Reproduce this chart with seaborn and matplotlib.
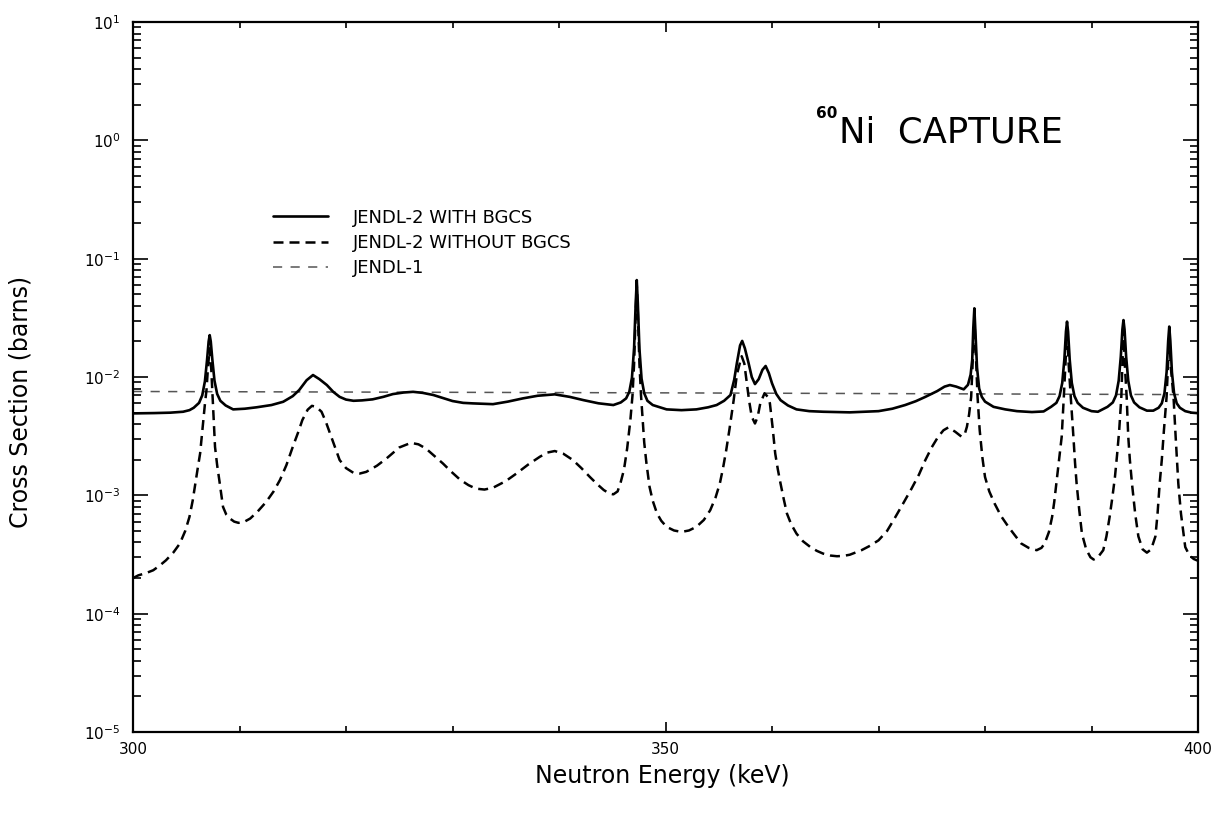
import numpy as np
import pandas as pd
import matplotlib
matplotlib.use("Agg")
import matplotlib.pyplot as plt
from matplotlib.lines import Line2D
from matplotlib.ticker import MultipleLocator, FixedLocator, NullFormatter, LogFormatterSciNotation
import seaborn as sns

# ---- data: 60Ni capture cross section (barns) vs neutron energy (keV) ----
with_bgcs_energy = [300.0, 302.0, 303.5, 304.7, 305.3, 305.7, 306.2, 306.5, 306.75, 306.95,
                    307.1, 307.2, 307.3, 307.45, 307.65, 307.9, 308.2, 308.7, 309.4, 310.5,
                    311.6, 313.0, 314.1, 315.0, 315.6, 316.3, 316.9, 317.5, 318.2, 318.8,
                    319.4, 320.0, 320.7, 321.5, 322.5, 323.5, 324.4, 325.4, 326.3, 327.2,
                    328.2, 329.1, 330.0, 331.0, 331.9, 333.8, 335.2, 336.6, 338.0, 339.6,
                    341.0, 342.3, 343.7, 345.1, 345.8, 346.3, 346.6, 346.85, 347.05, 347.2,
                    347.3, 347.4, 347.55, 347.75, 348.0, 348.3, 348.8, 350.1, 351.5, 352.9,
                    354.0, 354.8, 355.5, 356.1, 356.45, 356.7, 357.0, 357.2, 357.45, 357.8,
                    358.1, 358.4, 358.75, 359.1, 359.4, 359.7, 360.0, 360.4, 360.8, 361.5,
                    362.3, 363.5, 364.8, 367.3, 370.0, 371.3, 372.5, 373.5, 374.4, 375.5,
                    376.2, 376.7, 377.3, 378.0, 378.4, 378.65, 378.8, 378.9, 379.0, 379.1,
                    379.25, 379.45, 379.7, 380.0, 380.8, 381.9, 383.0, 384.4, 385.5, 386.2,
                    386.7, 387.0, 387.25, 387.45, 387.6, 387.7, 387.8, 387.95, 388.15, 388.4,
                    388.7, 389.2, 390.0, 390.6, 391.5, 392.0, 392.3, 392.55, 392.75, 392.9,
                    393.0, 393.1, 393.25, 393.45, 393.7, 394.0, 394.5, 395.2, 395.8, 396.3,
                    396.6, 396.85, 397.05, 397.2, 397.3, 397.4, 397.55, 397.75, 398.0, 398.3,
                    398.8, 399.4, 400.0]
with_bgcs_xs = [4.93e-3, 4.96e-3, 5.0e-3, 5.09e-3, 5.25e-3, 5.5e-3, 6.05e-3, 7.0e-3, 9.2e-3, 1.39e-2,
                2.0e-2, 2.26e-2, 2.0e-2, 1.4e-2, 9.3e-3, 7.2e-3, 6.3e-3, 5.75e-3, 5.33e-3, 5.4e-3,
                5.55e-3, 5.8e-3, 6.18e-3, 6.9e-3, 7.76e-3, 9.4e-3, 1.04e-2, 9.6e-3, 8.56e-3, 7.5e-3,
                6.8e-3, 6.45e-3, 6.3e-3, 6.35e-3, 6.48e-3, 6.8e-3, 7.18e-3, 7.4e-3, 7.5e-3, 7.35e-3,
                7.05e-3, 6.65e-3, 6.27e-3, 6.05e-3, 5.99e-3, 5.9e-3, 6.2e-3, 6.6e-3, 6.95e-3, 7.14e-3,
                6.8e-3, 6.38e-3, 6.0e-3, 5.8e-3, 6.1e-3, 6.6e-3, 7.5e-3, 9.9e-3, 1.77e-2, 4.2e-2,
                6.6e-2, 4.2e-2, 1.74e-2, 9.7e-3, 7.3e-3, 6.3e-3, 5.8e-3, 5.33e-3, 5.25e-3, 5.33e-3,
                5.55e-3, 5.8e-3, 6.3e-3, 7.05e-3, 9.5e-3, 1.31e-2, 1.85e-2, 2.02e-2, 1.75e-2, 1.31e-2,
                1.0e-2, 8.72e-3, 9.6e-3, 1.15e-2, 1.24e-2, 1.08e-2, 8.85e-3, 7.2e-3, 6.38e-3, 5.75e-3,
                5.33e-3, 5.15e-3, 5.09e-3, 5.03e-3, 5.15e-3, 5.4e-3, 5.8e-3, 6.25e-3, 6.8e-3, 7.6e-3,
                8.3e-3, 8.56e-3, 8.3e-3, 7.87e-3, 8.6e-3, 1.05e-2, 1.4e-2, 2.6e-2, 3.81e-2, 2.4e-2,
                1.2e-2, 8.0e-3, 6.8e-3, 6.2e-3, 5.6e-3, 5.33e-3, 5.15e-3, 5.06e-3, 5.12e-3, 5.6e-3,
                6.05e-3, 6.9e-3, 8.9e-3, 1.41e-2, 2.42e-2, 2.94e-2, 2.42e-2, 1.41e-2, 8.9e-3, 6.9e-3,
                6.05e-3, 5.5e-3, 5.15e-3, 5.09e-3, 5.6e-3, 6.1e-3, 7.0e-3, 9.3e-3, 1.49e-2, 2.53e-2,
                3.03e-2, 2.53e-2, 1.49e-2, 9.3e-3, 7.0e-3, 6.1e-3, 5.55e-3, 5.2e-3, 5.2e-3, 5.5e-3,
                6.0e-3, 7.3e-3, 1.1e-2, 2.03e-2, 2.67e-2, 2.03e-2, 1.1e-2, 7.3e-3, 6.0e-3, 5.5e-3,
                5.15e-3, 5.0e-3, 4.95e-3]

without_bgcs_energy = [300.0, 300.5, 301.2, 301.9, 302.5, 303.1, 303.8, 304.4, 304.9, 305.3,
                       305.6, 305.9, 306.1, 306.3, 306.45, 306.6, 306.75, 306.9, 307.05, 307.2,
                       307.35, 307.5, 307.6, 307.7, 307.9, 308.1, 308.45, 308.75, 309.1, 309.5,
                       309.9, 310.4, 311.0, 311.7, 312.5, 313.2, 313.8, 314.4, 315.0, 315.5,
                       315.9, 316.4, 316.8, 317.2, 317.7, 318.1, 318.5, 319.0, 319.4, 320.0,
                       320.7, 321.3, 321.9, 322.9, 323.8, 325.0, 326.1, 326.8, 327.5, 328.3,
                       329.1, 329.9, 330.7, 331.5, 332.2, 333.0, 333.8, 335.0, 336.0, 337.1,
                       338.2, 338.9, 339.6, 340.4, 341.3, 342.1, 342.9, 343.6, 344.2, 344.7,
                       345.1, 345.5, 345.8, 346.1, 346.4, 346.7, 346.9, 347.05, 347.2, 347.3,
                       347.4, 347.55, 347.7, 347.85, 348.0, 348.2, 348.5, 348.8, 349.2, 349.6,
                       350.1, 350.8, 351.5, 352.2, 352.9, 353.6, 354.2, 354.7, 355.1, 355.4,
                       355.7, 356.0, 356.4, 356.7, 357.15, 357.4, 357.6, 357.85, 358.1, 358.4,
                       358.65, 358.9, 359.3, 359.6, 359.8, 360.05, 360.3, 360.55, 360.8, 361.1,
                       361.4, 361.8, 362.3, 362.9, 363.6, 364.2, 364.8, 365.5, 366.1, 366.7,
                       367.3, 368.4, 369.2, 370.0, 370.8, 371.5, 372.3, 373.1, 373.8, 374.4,
                       375.0, 375.6, 376.1, 376.55, 377.2, 377.8, 378.1, 378.3, 378.5, 378.7,
                       378.85, 379.0, 379.1, 379.3, 379.5, 379.75, 380.0, 380.4, 380.9, 381.5,
                       382.2, 382.8, 383.4, 384.1, 384.85, 385.3, 385.6, 386.0, 386.3, 386.5,
                       386.7, 386.95, 387.2, 387.4, 387.55, 387.7, 387.85, 388.05, 388.3, 388.45,
                       388.6, 388.85, 389.1, 389.5, 389.9, 390.2, 390.6, 391.1, 391.4, 391.7,
                       391.95, 392.2, 392.4, 392.6, 392.8, 392.9, 393.0, 393.1, 393.3, 393.45,
                       393.6, 393.8, 394.1, 394.4, 394.8, 395.2, 395.6, 396.0, 396.2, 396.4,
                       396.6, 396.8, 397.05, 397.2, 397.3, 397.45, 397.7, 397.9, 398.15, 398.4,
                       398.8, 399.2, 399.6, 400.0]
without_bgcs_xs = [2.0e-4, 2.11e-4, 2.2e-4, 2.33e-4, 2.55e-4, 2.83e-4, 3.3e-4, 3.92e-4, 5.0e-4, 6.58e-4,
                   9.0e-4, 1.35e-3, 1.75e-3, 2.26e-3, 3.1e-3, 4.33e-3, 5.9e-3, 7.8e-3, 1.25e-2, 1.75e-2,
                   1.15e-2, 6.0e-3, 3.8e-3, 2.57e-3, 1.8e-3, 1.35e-3, 8.0e-4, 6.9e-4, 6.37e-4, 6.0e-4,
                   5.86e-4, 5.95e-4, 6.37e-4, 7.3e-4, 8.8e-4, 1.08e-3, 1.35e-3, 1.8e-3, 2.57e-3, 3.4e-3,
                   4.33e-3, 5.3e-3, 5.71e-3, 5.6e-3, 5.09e-3, 4.2e-3, 3.34e-3, 2.5e-3, 1.99e-3, 1.7e-3,
                   1.55e-3, 1.53e-3, 1.58e-3, 1.78e-3, 2.05e-3, 2.54e-3, 2.78e-3, 2.7e-3, 2.49e-3, 2.15e-3,
                   1.86e-3, 1.58e-3, 1.36e-3, 1.22e-3, 1.14e-3, 1.12e-3, 1.16e-3, 1.32e-3, 1.53e-3, 1.82e-3,
                   2.12e-3, 2.3e-3, 2.37e-3, 2.25e-3, 1.99e-3, 1.7e-3, 1.43e-3, 1.24e-3, 1.11e-3, 1.04e-3,
                   1.02e-3, 1.08e-3, 1.3e-3, 1.65e-3, 2.5e-3, 4.33e-3, 7.0e-3, 1.3e-2, 3.5e-2, 6.0e-2,
                   3.5e-2, 1.3e-2, 7.0e-3, 4.4e-3, 2.8e-3, 1.9e-3, 1.18e-3, 9.0e-4, 7.03e-4, 6.1e-4,
                   5.42e-4, 5.05e-4, 4.91e-4, 5.05e-4, 5.42e-4, 6.2e-4, 7.5e-4, 9.6e-4, 1.26e-3, 1.7e-3,
                   2.41e-3, 3.6e-3, 6.38e-3, 1.05e-2, 1.5e-2, 1.3e-2, 9.4e-3, 6.3e-3, 4.62e-3, 4.05e-3,
                   4.6e-3, 6.0e-3, 7.3e-3, 6.8e-3, 6.0e-3, 3.8e-3, 2.26e-3, 1.65e-3, 1.26e-3, 9.3e-4,
                   7.03e-4, 5.7e-4, 4.75e-4, 4.1e-4, 3.66e-4, 3.4e-4, 3.22e-4, 3.1e-4, 3.06e-4, 3.08e-4,
                   3.15e-4, 3.44e-4, 3.75e-4, 4.17e-4, 5.0e-4, 6.37e-4, 8.5e-4, 1.14e-3, 1.5e-3, 1.99e-3,
                   2.55e-3, 3.13e-3, 3.55e-3, 3.75e-3, 3.45e-3, 3.13e-3, 3.3e-3, 3.8e-3, 4.8e-3, 6.8e-3,
                   1.4e-2, 3.2e-2, 1.9e-2, 6.8e-3, 3.56e-3, 2.1e-3, 1.43e-3, 1.08e-3, 8.53e-4, 6.7e-4,
                   5.42e-4, 4.6e-4, 3.92e-4, 3.6e-4, 3.44e-4, 3.6e-4, 3.92e-4, 4.9e-4, 6.58e-4, 8.8e-4,
                   1.26e-3, 2.0e-3, 3.13e-3, 6.8e-3, 1.3e-2, 2.4e-2, 1.3e-2, 6.8e-3, 3.13e-3, 1.9e-3,
                   1.26e-3, 7.5e-4, 4.75e-4, 3.5e-4, 3.0e-4, 2.87e-4, 3.0e-4, 3.44e-4, 4.5e-4, 6.58e-4,
                   9.5e-4, 1.43e-3, 2.2e-3, 3.56e-3, 6.8e-3, 1.3e-2, 2.5e-2, 1.4e-2, 6.8e-3, 3.13e-3,
                   2.0e-3, 1.26e-3, 7.0e-4, 4.5e-4, 3.5e-4, 3.28e-4, 3.5e-4, 4.5e-4, 7.0e-4, 1.26e-3,
                   2.0e-3, 3.56e-3, 6.8e-3, 1.4e-2, 2.2e-2, 1.2e-2, 6.8e-3, 3.13e-3, 1.26e-3, 7.0e-4,
                   3.66e-4, 3.1e-4, 2.9e-4, 2.8e-4]

jendl1_energy = [300.0, 350.0, 400.0]
jendl1_xs = [7.55e-3, 7.35e-3, 7.1e-3]

series_labels = ["JENDL-2 WITH BGCS", "JENDL-2 WITHOUT BGCS", "JENDL-1"]
x_tick_values = [300, 350, 400]
y_decades = [1e-5, 1e-4, 1e-3, 1e-2, 1e-1, 1e0, 1e1]

# ---- figure ----
sns.set_theme(style="ticks")
plt.rcParams["font.family"] = ["DejaVu Sans"]
plt.rcParams["mathtext.fontset"] = "dejavusans"
plt.rcParams["text.color"] = "black"
plt.rcParams["xtick.color"] = "black"
plt.rcParams["ytick.color"] = "black"
plt.rcParams["axes.labelcolor"] = "black"

fig = plt.figure(figsize=(12.17, 8.17), dpi=100)
ax = fig.add_axes([0.1093, 0.104, 0.8751, 0.869])

df_with = pd.DataFrame({"energy": with_bgcs_energy, "xs": with_bgcs_xs})
df_without = pd.DataFrame({"energy": without_bgcs_energy, "xs": without_bgcs_xs})
df_j1 = pd.DataFrame({"energy": jendl1_energy, "xs": jendl1_xs})

solid_kw = dict(color="black", lw=1.9, linestyle="-")
thick_dash_kw = dict(color="black", lw=1.8, linestyle=(0, (4.0, 2.4)))
thin_dash_kw = dict(color="#555555", lw=1.1, linestyle=(0, (6.0, 5.5)))

sns.lineplot(data=df_j1, x="energy", y="xs", ax=ax, estimator=None, sort=False, **thin_dash_kw)
sns.lineplot(data=df_without, x="energy", y="xs", ax=ax, estimator=None, sort=False, **thick_dash_kw)
sns.lineplot(data=df_with, x="energy", y="xs", ax=ax, estimator=None, sort=False, **solid_kw)

ax.set_yscale("log")
ax.set_xlim(300, 400)
ax.set_ylim(1e-5, 1e1)

ax.xaxis.set_major_locator(FixedLocator(x_tick_values))
ax.set_xticklabels([str(v) for v in x_tick_values])
ax.xaxis.set_minor_locator(MultipleLocator(10))
ax.yaxis.set_major_locator(FixedLocator(y_decades))
ax.yaxis.set_major_formatter(LogFormatterSciNotation())
minor_y = [m * d for d in y_decades[:-1] for m in range(2, 10)]
ax.yaxis.set_minor_locator(FixedLocator(minor_y))
ax.yaxis.set_minor_formatter(NullFormatter())

for side in ax.spines.values():
    side.set_linewidth(1.6)
    side.set_color("black")

ax.tick_params(which="both", direction="in", top=True, right=True, color="black",
               labelcolor="black", labelsize=11, width=1.2)
ax.tick_params(axis="x", which="major", length=7, pad=7)
ax.tick_params(axis="x", which="minor", length=4.5)
ax.tick_params(axis="y", which="major", length=11, pad=9)
ax.tick_params(axis="y", which="minor", length=6)

ax.set_xlabel("Neutron Energy (keV)", fontsize=17)
ax.set_ylabel("Cross Section (barns)", fontsize=17)
ax.xaxis.set_label_coords(0.497, -0.045)
ax.yaxis.set_label_coords(-0.094, 0.465)

# reaction label with a small raised mass number
ax.text(0.641, 0.871, "60", transform=ax.transAxes, fontsize=11, fontweight="bold",
        ha="left", va="center")
ax.text(0.663, 0.831, "Ni  CAPTURE", transform=ax.transAxes,
        fontsize=25.5, ha="left", va="baseline")

handles = [Line2D([], [], **solid_kw),
           Line2D([], [], **thick_dash_kw),
           Line2D([], [], **thin_dash_kw)]
ax.legend(handles, series_labels, loc="center left", bbox_to_anchor=(0.131, 0.689),
          frameon=False, handlelength=3.05, handletextpad=1.38,
          labelspacing=0.39, borderpad=0, borderaxespad=0, labelcolor="black",
          prop={"size": 13})

fig.savefig("out.png", dpi=100)
